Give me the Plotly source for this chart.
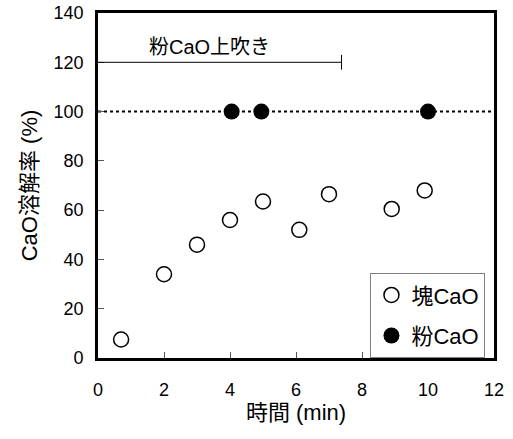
import plotly.graph_objects as go

# Data
lump_time = [0.7, 2.0, 3.0, 4.0, 5.0, 6.1, 7.0, 8.9, 9.9]
lump_rate = [7.5, 34, 46, 56, 63.5, 52, 66.5, 60.5, 68]
powder_time = [4.05, 4.95, 10.0]
powder_rate = [100, 100, 100]
blow_start = 0.0
blow_end = 7.38
blow_level = 120
full_level = 100
x_ticks = [0, 2, 4, 6, 8, 10, 12]
y_ticks = [0, 20, 40, 60, 80, 100, 120, 140]

FONT = "Liberation Sans, Noto Sans CJK JP, sans-serif"

fig = go.Figure()
fig.add_trace(go.Scatter(
    x=lump_time, y=lump_rate, mode="markers", name="塊CaO", legendgroup="a",
    marker=dict(symbol="circle-open", size=15, color="black", line=dict(width=1.5, color="black")),
))
fig.add_trace(go.Scatter(
    x=powder_time, y=powder_rate, mode="markers", name="粉CaO", legendgroup="b",
    marker=dict(symbol="circle", size=16, color="black"),
))

# dotted 100% line
fig.add_shape(type="line", xref="paper", x0=0, x1=1, yref="y", y0=full_level, y1=full_level,
              line=dict(color="black", width=2, dash="dot"), layer="below")
# blowing period bracket
fig.add_shape(type="line", x0=blow_start, x1=blow_end, y0=blow_level, y1=blow_level,
              line=dict(color="black", width=1))
fig.add_shape(type="line", x0=blow_end, x1=blow_end, y0=blow_level - 3, y1=blow_level + 3,
              line=dict(color="black", width=1))
fig.add_annotation(x=3.39, y=blow_level, yshift=15,
                   text="粉CaO上吹き", showarrow=False,
                   font=dict(family=FONT, size=20, color="black"))

fig.update_layout(
    width=513, height=439,
    margin=dict(l=98, r=19, t=13, b=81, autoexpand=False),
    paper_bgcolor="white", plot_bgcolor="white",
    font=dict(family=FONT, size=18, color="black"),
    showlegend=True,
    legend=dict(x=0.688, y=0.246, xanchor="left", yanchor="top",
                bordercolor="#808080", borderwidth=1, bgcolor="white",
                font=dict(size=22, family=FONT), traceorder="grouped",
                tracegroupgap=9, itemwidth=30),
    xaxis=dict(range=[0, 12], tickvals=x_ticks, ticks="inside", ticklen=6,
               tickcolor="#555555", tickwidth=1, showgrid=False, zeroline=False,
               showline=True, linecolor="black", linewidth=2.6, mirror=True,
               ticklabelstandoff=14, automargin=False, ticklabeloverflow="allow",
               title=dict(text="時間 (min)", font=dict(size=22), standoff=5)),
    yaxis=dict(range=[0, 140], tickvals=y_ticks, ticks="inside", ticklen=6,
               tickcolor="#555555", tickwidth=1, showgrid=False, zeroline=False,
               showline=True, linecolor="black", linewidth=2.6, mirror=True,
               ticklabelstandoff=8, automargin=False, ticklabeloverflow="allow",
               title=dict(text="CaO溶解率 (%)", font=dict(size=22), standoff=10)),
)

fig.write_html("out.html", config={"displayModeBar": False},
               post_script="document.body.style.margin='0';")
